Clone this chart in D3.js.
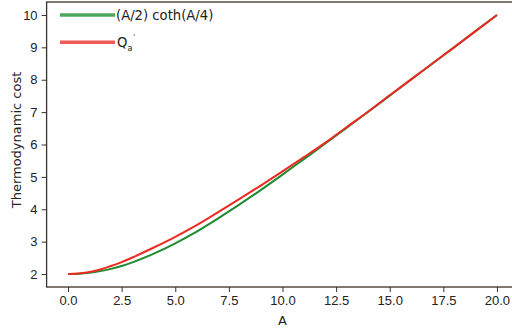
<!DOCTYPE html>
<html>
<head>
<meta charset="utf-8">
<script src="https://cdn.jsdelivr.net/npm/d3@7"></script>
<style>
  body { margin: 0; background: #fff; }
  svg { display: block; font-family: "DejaVu Sans", sans-serif; }
  .axis text { font-size: 13px; fill: #222; }
  .axis path, .axis line { stroke: #3a302c; }
</style>
</head>
<body>
<div id="chart"></div>
<script>
// Chart size
let w = 512;
let h = 331;

// Values
const aValues = [0, 0.5, 1, 1.5, 2, 2.5, 3, 4, 5, 6, 7, 8, 9, 10, 11, 12, 13, 14, 15, 16, 17, 18, 19, 20];
const cothValues = [2.00, 2.01, 2.04, 2.09, 2.16, 2.25, 2.36, 2.63, 2.95, 3.31, 3.72, 4.15, 4.60, 5.07, 5.55, 6.03, 6.52, 7.01, 7.51, 8.01, 8.50, 9.00, 9.50, 10.00];
const qaValues = [2.00, 2.02, 2.06, 2.14, 2.25, 2.37, 2.51, 2.82, 3.15, 3.51, 3.91, 4.32, 4.74, 5.17, 5.61, 6.06, 6.54, 7.02, 7.52, 8.01, 8.51, 9.00, 9.50, 10.00];
const xTicks = [0, 2.5, 5, 7.5, 10, 12.5, 15, 17.5, 20];
const yTicks = [2, 3, 4, 5, 6, 7, 8, 9, 10];

const svg = d3.select("#chart")
  .append("svg")
  .attr("width", w)
  .attr("height", h);

// Scales (matplotlib style 5% margins, right side cropped off)
const xScale = d3.scaleLinear().domain([-1, 21]).range([46.6, 518.4]);
const yScale = d3.scaleLinear().domain([1.6, 10.4]).range([287, 2]);

// Frame: top, left, bottom spines
svg.append("rect")
  .attr("x", xScale(-1))
  .attr("y", yScale(10.4))
  .attr("width", xScale(21) - xScale(-1))
  .attr("height", yScale(1.6) - yScale(10.4))
  .attr("fill", "none")
  .attr("stroke", "#3a302c")
  .attr("stroke-width", 1.3);

// Axes
svg.append("g")
  .attr("class", "axis")
  .attr("transform", "translate(0," + yScale(1.6) + ")")
  .call(d3.axisBottom(xScale).tickValues(xTicks).tickFormat(d3.format(".1f")).tickSize(5).tickSizeOuter(0).tickPadding(4))
  .call(g => g.select(".domain").remove());

svg.append("g")
  .attr("class", "axis")
  .attr("transform", "translate(" + xScale(-1) + ",0)")
  .call(d3.axisLeft(yScale).tickValues(yTicks).tickFormat(d3.format("d")).tickSize(5).tickSizeOuter(0).tickPadding(4))
  .call(g => g.select(".domain").remove());

// Curves
const line = (vals) => d3.line()
  .x((d, i) => xScale(aValues[i]))
  .y(d => yScale(d))
  .curve(d3.curveMonotoneX)(vals);

svg.append("path")
  .attr("d", line(cothValues))
  .attr("fill", "none")
  .attr("stroke", "#1e8a32")
  .attr("stroke-width", 2);

svg.append("path")
  .attr("d", line(qaValues))
  .attr("fill", "none")
  .attr("stroke", "#ec2a22")
  .attr("stroke-width", 2);

// Legend
const legend = svg.append("g");
legend.append("line")
  .attr("x1", 60).attr("x2", 115)
  .attr("y1", yScale(10)).attr("y2", yScale(10))
  .attr("stroke", "#3d9e4a").attr("stroke-width", 3.5).attr("opacity", 0.9);
legend.append("text")
  .attr("x", 116).attr("y", yScale(10) + 4.7)
  .style("font-size", "13.2px").attr("fill", "#222")
  .text("(A/2) coth(A/4)");

legend.append("line")
  .attr("x1", 60).attr("x2", 115)
  .attr("y1", yScale(9.16)).attr("y2", yScale(9.16))
  .attr("stroke", "#ef4a44").attr("stroke-width", 3.5).attr("opacity", 0.9);
const q = legend.append("text")
  .attr("x", 117).attr("y", yScale(9.16) + 4.7)
  .style("font-size", "13.2px").attr("fill", "#222");
q.append("tspan").text("Q");
q.append("tspan").attr("dy", 4).style("font-size", "8px").text("a");
q.append("tspan").attr("dy", -12).attr("dx", 1).style("font-size", "7px").text("'");

// Axis labels
svg.append("text")
  .attr("x", xScale(10))
  .attr("y", 325)
  .style("text-anchor", "middle")
  .style("font-size", "13px")
  .attr("fill", "#222")
  .text("A");

svg.append("text")
  .attr("transform", "translate(21," + 140 + ") rotate(-90)")
  .style("text-anchor", "middle")
  .style("font-size", "13px")
  .attr("fill", "#222")
  .text("Thermodynamic cost");
</script>
</body>
</html>
